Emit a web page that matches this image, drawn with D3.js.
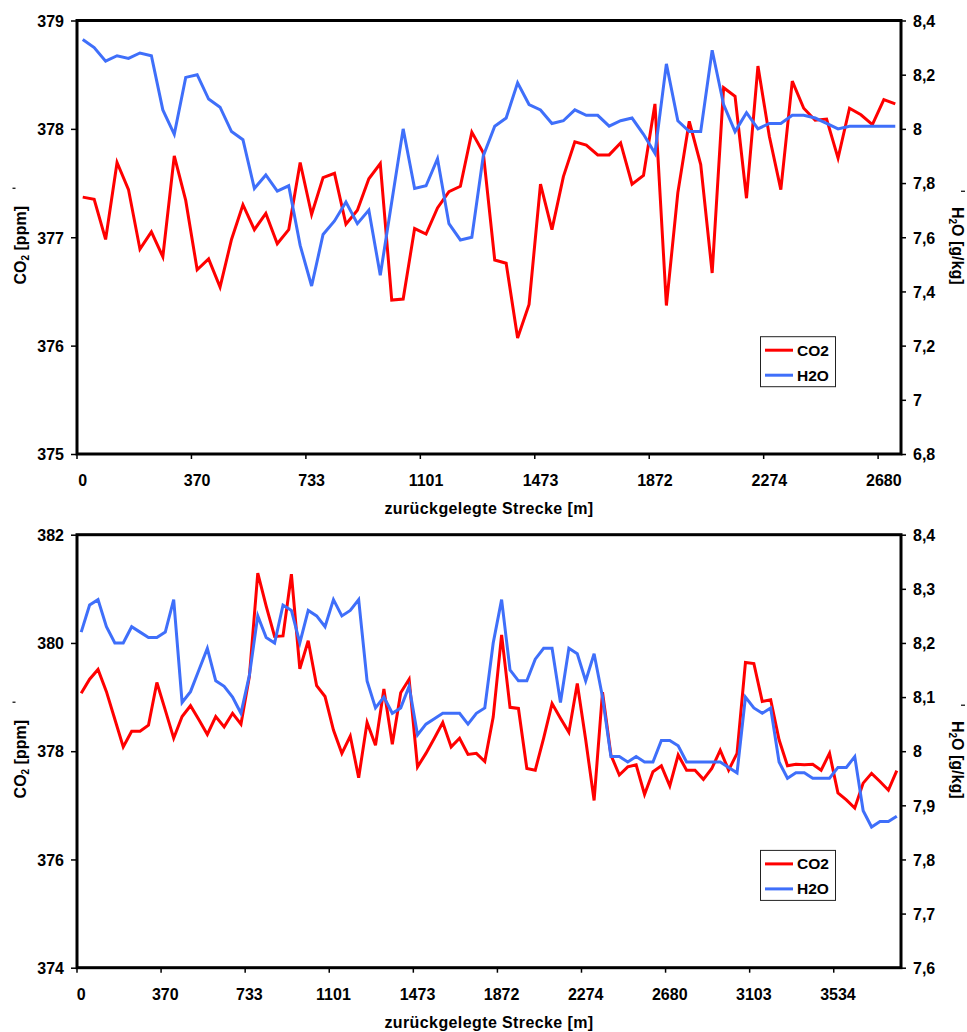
<!DOCTYPE html>
<html>
<head>
<meta charset="utf-8">
<script src="https://cdn.jsdelivr.net/npm/d3@7"></script>
<style>
  html, body { margin: 0; padding: 0; background: #fff; }
  svg { display: block; }
  text { font-family: "Liberation Sans", Arial, Helvetica, sans-serif; font-weight: bold; fill: #000; }
</style>
</head>
<body>
<script>
// ---- Route 1 (upper panel): 72 measurement points ----
const topDistanceLabels = ["0", "370", "733", "1101", "1473", "1872", "2274", "2680"];
const topCo2 = [
  377.37, 377.35, 376.98, 377.69, 377.44, 376.89, 377.05, 376.82, 377.75, 377.34,
  376.70, 376.80, 376.54, 376.98, 377.30, 377.07, 377.22, 376.94, 377.07, 377.69,
  377.21, 377.55, 377.59, 377.12, 377.25, 377.54, 377.68, 376.42, 376.43, 377.08,
  377.03, 377.27, 377.42, 377.47, 377.97, 377.78, 376.79, 376.76, 376.07, 376.38,
  377.49, 377.07, 377.56, 377.88, 377.85, 377.76, 377.76, 377.87, 377.49, 377.57,
  378.23, 376.37, 377.41, 378.07, 377.67, 376.67, 378.38, 378.30, 377.36, 378.58,
  377.93, 377.44, 378.44, 378.19, 378.08, 378.09, 377.73, 378.19, 378.13, 378.04,
  378.27, 378.23
];
const topH2o = [
  8.33, 8.30, 8.25, 8.27, 8.26, 8.28, 8.27, 8.07, 7.98, 8.19,
  8.20, 8.11, 8.08, 7.99, 7.96, 7.78, 7.83, 7.77, 7.79, 7.57,
  7.42, 7.61, 7.66, 7.73, 7.65, 7.70, 7.46, 7.73, 8.00, 7.78,
  7.79, 7.89, 7.65, 7.59, 7.60, 7.90, 8.01, 8.04, 8.17, 8.09,
  8.07, 8.02, 8.03, 8.07, 8.05, 8.05, 8.01, 8.03, 8.04, 7.98,
  7.91, 8.24, 8.03, 7.99, 7.99, 8.29, 8.09, 7.99, 8.06, 8.00,
  8.02, 8.02, 8.05, 8.05, 8.04, 8.02, 8.00, 8.01, 8.01, 8.01,
  8.01, 8.01
];
const topCo2Ticks = [375, 376, 377, 378, 379];
const topH2oTicks = [6.8, 7.0, 7.2, 7.4, 7.6, 7.8, 8.0, 8.2, 8.4];

// ---- Route 2 (lower panel): 98 measurement points ----
const bottomDistanceLabels = ["0", "370", "733", "1101", "1473", "1872", "2274", "2680", "3103", "3534"];
const bottomCo2 = [
  379.07, 379.33, 379.51, 379.10, 378.59, 378.08, 378.37, 378.37, 378.48, 379.27,
  378.76, 378.24, 378.64, 378.84, 378.58, 378.31, 378.64, 378.45, 378.70, 378.50,
  379.38, 381.29, 380.68, 380.12, 380.13, 381.27, 379.52, 380.04, 379.21, 379.01,
  378.39, 377.96, 378.28, 377.51, 378.53, 378.11, 379.15, 378.13, 379.08, 379.33,
  377.71, 377.96, 378.24, 378.53, 378.08, 378.24, 377.94, 377.96, 377.81, 378.63,
  380.15, 378.81, 378.79, 377.68, 377.65, 378.24, 378.88, 378.61, 378.35, 379.25,
  378.21, 377.09, 379.09, 377.93, 377.56, 377.71, 377.75, 377.20, 377.62, 377.73,
  377.36, 377.93, 377.65, 377.65, 377.48, 377.68, 378.02, 377.65, 377.96, 379.64,
  379.62, 378.92, 378.95, 378.21, 377.73, 377.76, 377.75, 377.76, 377.65, 377.96,
  377.23, 377.10, 376.95, 377.41, 377.59, 377.44, 377.28, 377.64
];
const bottomH2o = [
  8.22, 8.27, 8.28, 8.23, 8.20, 8.20, 8.23, 8.22, 8.21, 8.21,
  8.22, 8.28, 8.09, 8.11, 8.15, 8.19, 8.13, 8.12, 8.10, 8.07,
  8.14, 8.25, 8.21, 8.20, 8.27, 8.26, 8.20, 8.26, 8.25, 8.23,
  8.28, 8.25, 8.26, 8.28, 8.13, 8.08, 8.10, 8.07, 8.08, 8.12,
  8.03, 8.05, 8.06, 8.07, 8.07, 8.07, 8.05, 8.07, 8.08, 8.20,
  8.28, 8.15, 8.13, 8.13, 8.17, 8.19, 8.19, 8.09, 8.19, 8.18,
  8.13, 8.18, 8.10, 7.99, 7.99, 7.98, 7.99, 7.98, 7.98, 8.02,
  8.02, 8.01, 7.98, 7.98, 7.98, 7.98, 7.98, 7.97, 7.96, 8.10,
  8.08, 8.07, 8.08, 7.98, 7.95, 7.96, 7.96, 7.95, 7.95, 7.95,
  7.97, 7.97, 7.99, 7.89, 7.86, 7.87, 7.87, 7.88
];
const bottomCo2Ticks = [374, 376, 378, 380, 382];
const bottomH2oTicks = [7.6, 7.7, 7.8, 7.9, 8.0, 8.1, 8.2, 8.3, 8.4];

const seriesNames = ["CO2", "H2O"];
const co2Color = "#ff0000";
const h2oColor = "#3f6ffa";
const xTitle = "zurückgelegte Strecke [m]";
const labelStep = 10; // one distance label every ten points

const svg = d3.select("body").append("svg")
  .attr("width", 967).attr("height", 1032);

// German decimal comma for the humidity axis
const commaFmt = d => String(+d.toFixed(1)).replace(".", ",");

function drawPanel(p) {
  const g = svg.append("g");
  const n = p.co2.length;

  const x = d3.scaleBand().domain(d3.range(n)).range([p.left, p.right]).paddingInner(0).paddingOuter(0);
  const cx = i => x(i) + x.bandwidth() / 2;
  const yL = d3.scaleLinear().domain(p.co2Domain).range([p.bottom, p.top]);
  const yR = d3.scaleLinear().domain(p.h2oDomain).range([p.bottom, p.top]);

  // left axis
  const axL = g.append("g").attr("transform", `translate(${p.left},0)`)
    .call(d3.axisLeft(yL).tickValues(p.co2Ticks).tickSize(6).tickPadding(7).tickFormat(d3.format("d")));
  axL.select(".domain").remove();
  axL.selectAll(".tick line").attr("stroke", "#000").attr("stroke-width", 1.5);
  axL.selectAll(".tick text").attr("font-size", 16).attr("font-family", null).attr("dy", "0.36em");

  // right axis
  const axR = g.append("g").attr("transform", `translate(${p.right},0)`)
    .call(d3.axisRight(yR).tickValues(p.h2oTicks).tickSize(5).tickPadding(7).tickFormat(commaFmt));
  axR.select(".domain").remove();
  axR.selectAll(".tick line").attr("stroke", "#000").attr("stroke-width", 1.5);
  axR.selectAll(".tick text").attr("font-size", 16).attr("font-family", null).attr("dy", "0.36em");

  // category axis: ticks on band edges, labels centred on their band
  const labelIdx = p.xLabels.map((_, k) => k * labelStep);
  g.append("g").selectAll("line").data(labelIdx).join("line")
    .attr("x1", i => x(i)).attr("x2", i => x(i))
    .attr("y1", p.bottom).attr("y2", p.bottom + 5)
    .attr("stroke", "#000").attr("stroke-width", 1.5);
  g.append("g").selectAll("text").data(labelIdx).join("text")
    .attr("x", i => cx(i)).attr("y", p.bottom + 32)
    .attr("text-anchor", "middle").attr("font-size", 16)
    .text((i, k) => p.xLabels[k]);

  // series
  const lineL = d3.line().x((d, i) => cx(i)).y(d => yL(d));
  const lineR = d3.line().x((d, i) => cx(i)).y(d => yR(d));
  g.append("path").datum(p.co2).attr("d", lineL)
    .attr("fill", "none").attr("stroke", co2Color).attr("stroke-width", 3);
  g.append("path").datum(p.h2o).attr("d", lineR)
    .attr("fill", "none").attr("stroke", h2oColor).attr("stroke-width", 3);

  // plot frame
  g.append("rect").attr("x", p.left).attr("y", p.top)
    .attr("width", p.right - p.left).attr("height", p.bottom - p.top)
    .attr("fill", "none").attr("stroke", "#000").attr("stroke-width", 3);

  const mid = (p.top + p.bottom) / 2;

  // axis titles
  const tl = g.append("text").attr("font-size", 16).attr("text-anchor", "middle")
    .attr("transform", `translate(26,${mid + 8}) rotate(-90)`);
  tl.append("tspan").text("CO");
  tl.append("tspan").attr("font-size", 10).attr("dy", 3).text("2");
  tl.append("tspan").attr("dy", -3).text(" [ppm]");
  g.append("line").attr("x1", 12.5).attr("x2", 15.5).attr("y1", mid - 49).attr("y2", mid - 49)
    .attr("stroke", "#000").attr("stroke-width", 1.2);

  const tr = g.append("text").attr("font-size", 16).attr("text-anchor", "middle")
    .attr("transform", `translate(951.5,${mid + 8.5}) rotate(90)`);
  tr.append("tspan").text("H");
  tr.append("tspan").attr("font-size", 10).attr("dy", 3).text("2");
  tr.append("tspan").attr("dy", -3).text("O [g/kg]");
  g.append("line").attr("x1", 961).attr("x2", 965).attr("y1", mid - 46).attr("y2", mid - 46)
    .attr("stroke", "#000").attr("stroke-width", 1.2);

  g.append("text").attr("x", (p.left + p.right) / 2).attr("y", p.bottom + 60)
    .attr("text-anchor", "middle").attr("font-size", 16).attr("letter-spacing", 0.4).text(xTitle);

  // legend
  const ly = p.bottom - 117.3;
  const lg = g.append("g");
  lg.append("rect").attr("x", 760.5).attr("y", ly).attr("width", 75).attr("height", 50)
    .attr("fill", "#fff").attr("stroke", "#222").attr("stroke-width", 1);
  [co2Color, h2oColor].forEach((c, k) => {
    const ry = ly + 13.5 + k * 25;
    lg.append("line").attr("x1", 765).attr("x2", 793).attr("y1", ry).attr("y2", ry)
      .attr("stroke", c).attr("stroke-width", 3);
    lg.append("text").attr("x", 797).attr("y", ry + 5.5).attr("font-size", 15.5)
      .text(seriesNames[k]);
  });
}

drawPanel({
  top: 20.5, bottom: 454, left: 77, right: 901,
  co2: topCo2, h2o: topH2o,
  co2Domain: [375, 379], h2oDomain: [6.8, 8.4],
  co2Ticks: topCo2Ticks, h2oTicks: topH2oTicks,
  xLabels: topDistanceLabels
});

drawPanel({
  top: 534.7, bottom: 967.7, left: 77, right: 901,
  co2: bottomCo2, h2o: bottomH2o,
  co2Domain: [374, 382], h2oDomain: [7.6, 8.4],
  co2Ticks: bottomCo2Ticks, h2oTicks: bottomH2oTicks,
  xLabels: bottomDistanceLabels
});
</script>
</body>
</html>
